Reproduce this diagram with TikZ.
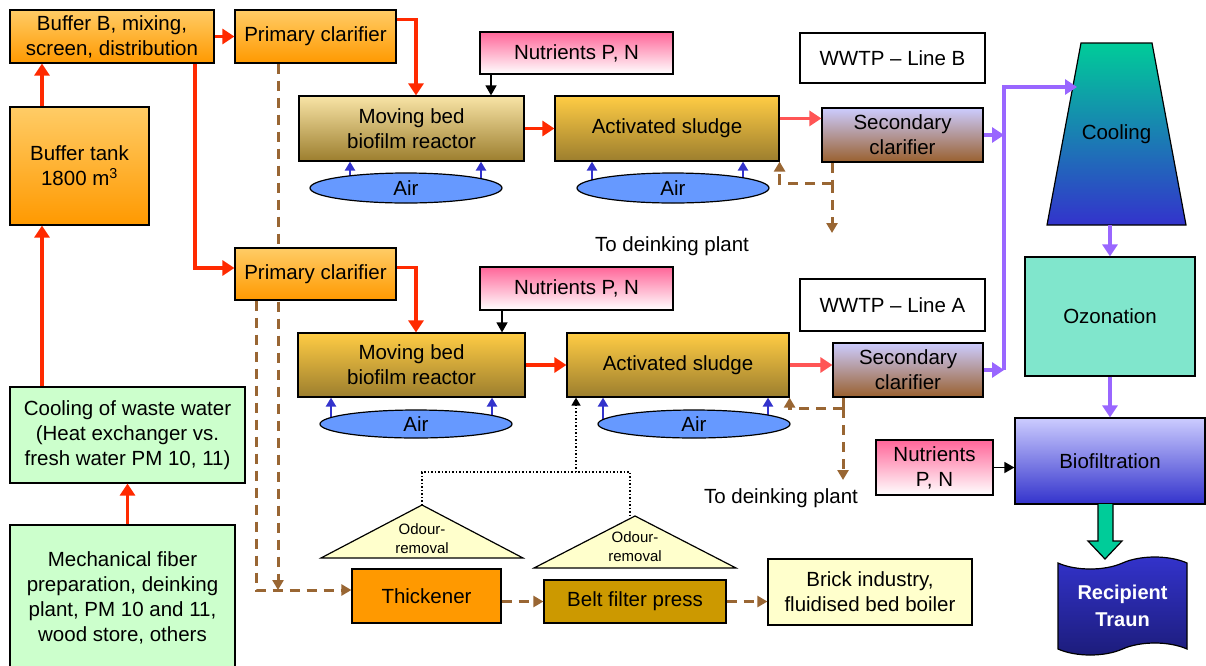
\documentclass[tikz,border=0pt]{standalone}
\usepackage{fontspec}
\setmainfont{Liberation Sans}
\usetikzlibrary{arrows.meta,shapes.geometric,shapes.symbols}
\pgfdeclarelayer{bg}
\pgfsetlayers{bg,main}

\definecolor{orangetop}{HTML}{FFCC66}
\definecolor{orangebot}{HTML}{FF9900}
\definecolor{paleyel}{HTML}{F8E4A6}
\definecolor{goldtop}{HTML}{FFCC44}
\definecolor{olivebot}{HTML}{9C7E2E}
\definecolor{lavender}{HTML}{CCCCFF}
\definecolor{clarbot}{HTML}{99602E}
\definecolor{nutpink}{HTML}{FF6699}
\definecolor{mint}{HTML}{CCFFCC}
\definecolor{aqua}{HTML}{80E6CC}
\definecolor{coolgreen}{HTML}{00CC99}
\definecolor{deepblue}{HTML}{3333CC}
\definecolor{navyblue}{HTML}{1C1C7A}
\definecolor{airblue}{HTML}{6699FF}
\definecolor{cream}{HTML}{FFFFCC}
\definecolor{thickorange}{HTML}{FF9900}
\definecolor{beltgold}{HTML}{CC9900}
\definecolor{flowred}{HTML}{FF2A00}
\definecolor{pinkred}{HTML}{FF5555}
\definecolor{effviolet}{HTML}{9966FF}
\definecolor{sludgebrown}{HTML}{996633}

\begin{document}
\begin{tikzpicture}[x=1pt,y=-1pt,
            font=\fontsize{20.5}{25}\selectfont,
            box/.style={draw,line width=1.2pt,align=center,inner sep=0pt},
            orangebox/.style={box,top color=orangetop,bottom color=orangebot},
            greenbox/.style={box,fill=mint},
            bedbox/.style={box,top color=goldtop,bottom color=olivebot},
            clarbox/.style={box,top color=lavender,bottom color=clarbot},
            nutbox/.style={box,top color=nutpink,bottom color=white},
            labelbox/.style={box,fill=white},
            air/.style={draw,ellipse,fill=airblue,line width=1.2pt,inner sep=0pt,minimum width=192pt,minimum height=30pt},
            odour/.style={fill=cream,draw,line width=1.2pt},
            flow/.style={draw=flowred,line width=3.5pt,-{Triangle[length=12pt,width=15pt]}},
            effluent/.style={draw=effviolet,line width=3.5pt,-{Triangle[length=12pt,width=15pt]}},
            aeration/.style={draw=deepblue,line width=2.5pt,-{Triangle[length=9pt,width=10pt]}},
            dosing/.style={draw=black,line width=1.5pt,-{Triangle[length=10pt,width=11pt]}},
            sludge/.style={draw=sludgebrown,line width=3pt,dash pattern=on 10pt off 7pt,-{Triangle[length=10pt,width=11pt]}},
            exhaust/.style={draw=black,line width=1.5pt,dotted,-{Triangle[length=8pt,width=9pt]}}
          ]
          \useasboundingbox (0,0) rectangle (1206,665);

          %feed side
          \node[greenbox,minimum width=225pt,minimum height=145pt] (mech) at (122.5,597.5) {Mechanical fiber\\preparation, deinking\\plant, PM 10 and 11,\\wood store, others};
          \node[greenbox,minimum width=235pt,minimum height=96pt] (cool) at (127.5,435) {Cooling of waste water\\(Heat exchanger vs.\\fresh water PM 10, 11)};
          \node[orangebox,minimum width=139pt,minimum height=118pt] (tank) at (79.5,166) {Buffer tank\\1800 m\textsuperscript{3}};
          \node[orangebox,minimum width=204pt,minimum height=53pt] (mix) at (112,36.5) {Buffer B, mixing,\\screen, distribution};

          %primary clarifiers
          \node[orangebox,minimum width=161pt,minimum height=53pt] (pcB) at (315.5,36.5) {Primary clarifier};
          \node[orangebox,minimum width=161pt,minimum height=52pt] (pcA) at (315.5,274) {Primary clarifier};

          %line B
          \node[nutbox,minimum width=193pt,minimum height=42pt] (nutB) at (576.5,53) {Nutrients P, N};
          \node[box,top color=paleyel,bottom color=olivebot,minimum width=225pt,minimum height=65pt] (mbbrB) at (411.5,128.5) {Moving bed\\biofilm reactor};
          \node[bedbox,minimum width=224pt,minimum height=65pt] (asB) at (667,128.5) {Activated sludge};
          \node[clarbox,minimum width=161pt,minimum height=54pt] (scB) at (902.5,135) {Secondary\\clarifier};
          \node[labelbox,minimum width=185pt,minimum height=50pt] (wwtpB) at (892.5,58) {WWTP – Line B};
          \node[air] (airB1) at (406,188) {Air};
          \node[air] (airB2) at (673,188) {Air};
          \node (dkB) at (672,246) {To deinking plant};

          %line A
          \node[nutbox,minimum width=193pt,minimum height=43pt] (nutA) at (576.5,288.5) {Nutrients P, N};
          \node[bedbox,minimum width=227pt,minimum height=64pt] (mbbrA) at (411.5,365) {Moving bed\\biofilm reactor};
          \node[bedbox,minimum width=222pt,minimum height=64pt] (asA) at (678,365) {Activated sludge};
          \node[clarbox,minimum width=150pt,minimum height=54pt] (scA) at (908,370) {Secondary\\clarifier};
          \node[labelbox,minimum width=185pt,minimum height=52pt] (wwtpA) at (892.5,305) {WWTP – Line A};
          \node[air,minimum height=28pt] (airA1) at (416,424) {Air};
          \node[air,minimum height=28pt] (airA2) at (694,424) {Air};
          \node (dkA) at (781,498) {To deinking plant};

          %tertiary treatment
          \shade[draw,line width=1.2pt,top color=coolgreen,bottom color=deepblue] (1081,43) -- (1152,43) -- (1186,225) -- (1047,225) -- cycle;
          \node[minimum width=139pt,minimum height=182pt,inner sep=0pt] (cooling) at (1116.5,134) {Cooling};
          \node[box,fill=aqua,minimum width=170pt,minimum height=119pt] (ozon) at (1110,316.5) {Ozonation};
          \node[box,top color=lavender,bottom color=deepblue,minimum width=190pt,minimum height=86pt] (bio) at (1110,461) {Biofiltration};
          \node[nutbox,minimum width=117pt,minimum height=55pt] (nutC) at (934.5,467.5) {Nutrients\\P, N};
          \filldraw[fill=coolgreen,line width=1.2pt] (1098,504) -- (1098,541) -- (1088,541) -- (1105,559) -- (1122,541) -- (1113,541) -- (1113,504);
          \node[tape,draw,line width=1.2pt,top color=deepblue,bottom color=navyblue,text=white,
                font=\bfseries\fontsize{20}{27}\selectfont,align=center,inner sep=0pt,
                minimum width=129pt,minimum height=98pt,tape bend height=12pt] (traun) at (1122.5,606) {Recipient\\Traun};

          %sludge line
          \node[box,fill=thickorange,minimum width=149pt,minimum height=54pt] (thick) at (426.5,596) {Thickener};
          \node[box,fill=beltgold,minimum width=182pt,minimum height=43pt] (belt) at (635,601.5) {Belt filter press};
          \node[box,fill=cream,minimum width=204pt,minimum height=66pt] (brick) at (870,592) {Brick industry,\\fluidised bed boiler};
          \filldraw[odour] (321,558) -- (422,505) -- (523,558) -- cycle;
          \filldraw[odour] (534,568) -- (635,516) -- (736,568) -- cycle;
          \node[font=\fontsize{15}{19}\selectfont,align=center] (odA) at (422,538.5) {Odour-\\removal};
          \node[font=\fontsize{15}{19}\selectfont,align=center] (odB) at (635,546.5) {Odour-\\removal};

          %helper points
          \coordinate (lx) at (42,0);
          \coordinate (dx) at (195,0);
          \coordinate (rx) at (416,0);
          \coordinate (nbx) at (491,0);
          \coordinate (nax) at (502,0);
          \coordinate (vx) at (1004,0);
          \coordinate (cin) at (1077,87);
          \coordinate (pcAin) at ([yshift=6pt]pcA.west);
          \coordinate (scBin) at ([yshift=-11pt]scB.north west);
          \coordinate (jB) at (832,183);
          \coordinate (jA) at (843,408);
          \coordinate (toB) at (832,233);
          \coordinate (toA) at (843,480);
          \coordinate (sx1) at (256,0);
          \coordinate (sx2) at (278,0);
          \coordinate (tin) at ([yshift=6pt]thick.west);
          \coordinate (oA) at (422,505);
          \coordinate (oB) at (630,517);
          \coordinate (jo) at (576,472);

          %water flow
          \draw[flow] (cool.south |- mech.north) -- (cool.south);
          \draw[flow] (lx |- cool.north) -- (lx |- tank.south);
          \draw[flow] (lx |- tank.north) -- (lx |- mix.south);
          \draw[flow] (mix.east) -- (pcB.west);
          \draw[flow] (dx |- mix.south) |- (pcAin);
          \draw[flow] ([yshift=-10pt]pcB.north east) -| (rx |- mbbrB.north);
          \draw[flow] ([yshift=-20pt]pcA.north east) -| (rx |- mbbrA.north);
          \draw[flow] (mbbrB.east) -- (asB.west);
          \draw[flow] (mbbrA.east) -- (asA.west);
          \draw[flow,draw=pinkred] (scBin -| asB.east) -- (scBin);
          \draw[flow,draw=pinkred] (asA.east) -- (asA.east -| scA.west);

          %effluent
          \draw[effluent] (scB.east) -- (scB.east -| vx);
          \draw[effluent] (scA.east) -- (scA.east -| vx);
          \draw[effluent] (vx |- scA.east) |- (cin);
          \draw[effluent] (cooling.south -| ozon.north) -- (ozon.north);
          \draw[effluent] (ozon.south) -- (bio.north);

          %nutrients
          \draw[dosing] (nbx |- nutB.south) -- (nbx |- mbbrB.north);
          \draw[dosing] (nax |- nutA.south) -- (nax |- mbbrA.north);
          \draw[dosing] (nutC.east) -- (nutC.east -| bio.west);

          %air
          \begin{pgfonlayer}{bg}
            \foreach \ax/\src/\dst in {350/airB1/mbbrB,481/airB1/mbbrB,592/airB2/asB,743/airB2/asB,
                                       331/airA1/mbbrA,492/airA1/mbbrA,603/airA2/asA,768/airA2/asA}{
              \coordinate (t) at (\ax,0);
              \draw[aeration] (t |- \src.center) -- (t |- \dst.south);
            }
            \draw[sludge] (sx2 |- pcB.south) -- (sx2 |- tin);
          \end{pgfonlayer}

          %sludge
          \draw[sludge,-] (scB.south -| jB) -- (jB);
          \draw[sludge] (jB) -| (asB.south east);
          \draw[sludge] (jB) -- (toB);
          \draw[sludge,-] (scA.south -| jA) -- (jA);
          \draw[sludge] (jA) -| (asA.south east);
          \draw[sludge] (jA) -- (toA);
          \draw[sludge] (sx1 |- pcA.south) |- (tin);
          \draw[sludge] (belt.west -| thick.east) -- (belt.west);
          \draw[sludge] (belt.east) -- (belt.east -| brick.west);

          %odour
          \draw[exhaust,-] (oA) |- (jo) -| (oB);
          \draw[exhaust] (jo) -- (jo |- asA.south);

      \end{tikzpicture}
\end{document}
